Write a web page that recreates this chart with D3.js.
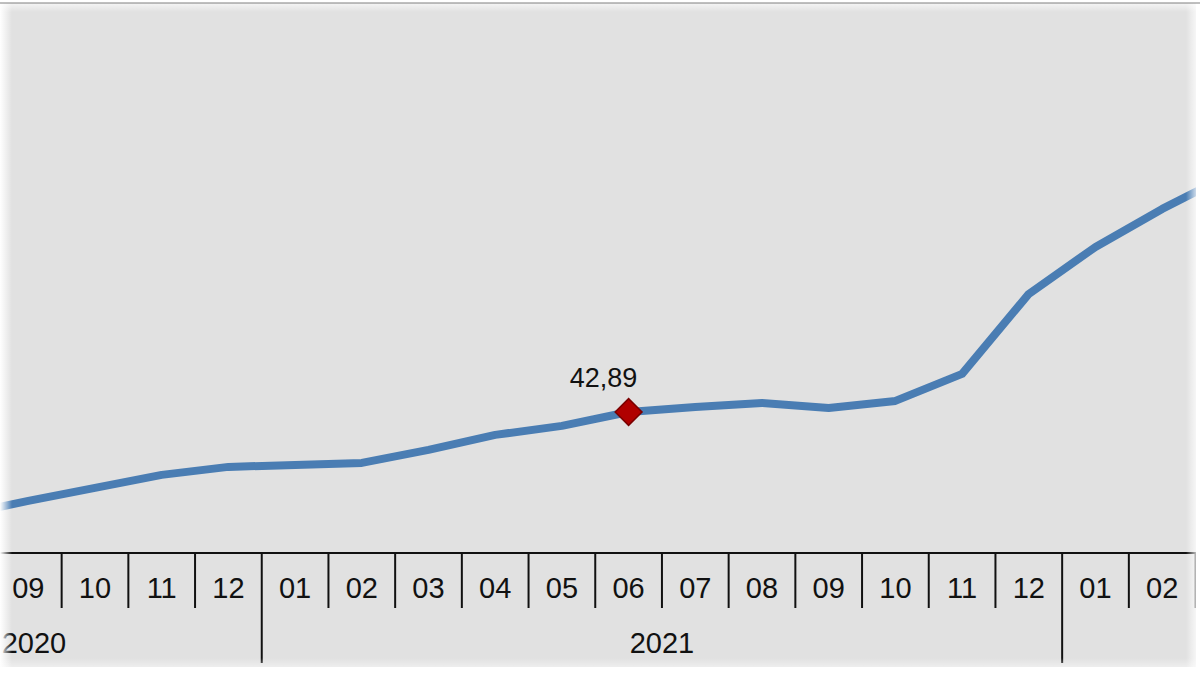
<!DOCTYPE html>
<html>
<head>
<meta charset="utf-8">
<script src="https://cdn.jsdelivr.net/npm/d3@7/dist/d3.min.js"></script>
<style>
  html, body { margin: 0; padding: 0; background: #ffffff; overflow: hidden; }
  svg { display: block; }
  text { font-family: "Liberation Sans", Arial, sans-serif; }
</style>
</head>
<body>
<svg id="chart" width="1200" height="679"></svg>
<script>
// ---- data (month keys, values) ----
const months = ["2020-08","2020-09","2020-10","2020-11","2020-12",
                "2021-01","2021-02","2021-03","2021-04","2021-05","2021-06",
                "2021-07","2021-08","2021-09","2021-10","2021-11","2021-12",
                "2022-01","2022-02","2022-03"];
const values = [32.6, 34.0, 35.3, 36.6, 37.4,
                37.6, 37.8, 39.1, 40.6, 41.5, 42.89,
                43.4, 43.8, 43.3, 44.0, 46.7, 54.7,
                59.4, 63.2, 66.6];
const highlightMonth = "2021-06";
const highlightLabel = "42,89";
// axis window (scrolled view) from June 2020 through August 2022
const axisStart = "2020-06";
const axisEnd = "2022-08";
const yearLabels = ["2020", "2021", "2022"];

// ---- helpers ----
const mIndex = k => { const [y, m] = k.split("-").map(Number); return (y - 2020) * 12 + (m - 1); };
const data = months.map((k, i) => ({ key: k, m: mIndex(k), v: values[i] }));

const svg = d3.select("#chart");
const W = 1200, H = 679;
const plotRight = 1196, axisY = 553, monthRowBottom = 608, yearRowBottom = 663;

// background panel
svg.append("rect").attr("x", 0).attr("y", 0).attr("width", W).attr("height", H).attr("fill", "#ffffff");
svg.append("rect").attr("x", 0).attr("y", 3).attr("width", plotRight).attr("height", 664).attr("fill", "#e1e1e1");

// scales
const a0 = mIndex(axisStart), a1 = mIndex(axisEnd) + 1;
const cell = 66.7;
const x = d3.scaleLinear().domain([a0, a1]).range([-5.05 - (8 - a0) * cell, -5.05 + (a1 - 8) * cell]);
const y = d3.scaleLinear().domain([30, 80]).range([540.9, 40.9]);

const defs = svg.append("defs");
defs.append("clipPath").attr("id", "clip").append("rect")
  .attr("x", 0).attr("y", 0).attr("width", plotRight).attr("height", H);

const g = svg.append("g").attr("clip-path", "url(#clip)");

// axis line
g.append("line").attr("x1", 0).attr("x2", plotRight).attr("y1", axisY).attr("y2", axisY)
  .attr("stroke", "#111").attr("stroke-width", 2);

// month cells
const axisMonths = d3.range(a0, a1);
const visible = px => px >= 0 && px <= plotRight;
g.selectAll(".msep").data(axisMonths.concat([a1]).filter(d => visible(x(d)))).join("line")
  .attr("class", "msep")
  .attr("x1", d => x(d)).attr("x2", d => x(d))
  .attr("y1", axisY).attr("y2", d => (d % 12 === 0) ? yearRowBottom : monthRowBottom)
  .attr("stroke", "#111").attr("stroke-width", 2);

g.selectAll(".mlab").data(axisMonths.filter(d => visible(x(d + 0.5)))).join("text")
  .attr("class", "mlab")
  .attr("x", d => x(d + 0.5)).attr("y", 598)
  .attr("text-anchor", "middle").attr("font-size", 29).attr("fill", "#111")
  .text(d => String((d % 12) + 1).padStart(2, "0"));

// year labels, centred over the months of that year inside the axis window
const yearX = yr => {
  const s = Math.max(a0, (+yr - 2020) * 12), e = Math.min(a1, (+yr - 2020) * 12 + 12);
  return (x(s) + x(e)) / 2;
};
g.selectAll(".ylab").data(yearLabels.filter(yr => visible(yearX(yr)))).join("text")
  .attr("class", "ylab")
  .attr("x", yr => Math.max(yearX(yr), 34))
  .attr("y", 653).attr("text-anchor", "middle").attr("font-size", 29).attr("fill", "#111")
  .text(d => d);

// line
const line = d3.line().x(d => x(d.m + 0.5)).y(d => y(d.v)).curve(d3.curveLinear);
g.append("path").datum(data).attr("d", line)
  .attr("fill", "none").attr("stroke", "#4a7db3").attr("stroke-width", 8)
  .attr("stroke-linejoin", "round").attr("stroke-linecap", "round");

// highlight point
const hp = data.find(d => d.key === highlightMonth);
g.append("path")
  .attr("d", d3.symbol(d3.symbolSquare, 360)())
  .attr("transform", `translate(${x(hp.m + 0.5)},${y(hp.v)}) rotate(45)`)
  .attr("fill", "#b00000").attr("stroke", "#7a0000").attr("stroke-width", 1.5);
g.append("text")
  .attr("x", x(hp.m + 0.5) - 25).attr("y", y(hp.v) - 25)
  .attr("text-anchor", "middle").attr("font-size", 27).attr("fill", "#111")
  .text(highlightLabel);

// soft white edges
function edge(id, x1, y1, x2, y2) {
  const lg = defs.append("linearGradient").attr("id", id)
    .attr("x1", x1).attr("y1", y1).attr("x2", x2).attr("y2", y2);
  lg.append("stop").attr("offset", "0%").attr("stop-color", "#ffffff").attr("stop-opacity", 1);
  lg.append("stop").attr("offset", "100%").attr("stop-color", "#ffffff").attr("stop-opacity", 0);
}
edge("gl", 0, 0, 1, 0); edge("gr", 1, 0, 0, 0); edge("gb", 0, 1, 0, 0); edge("gt", 0, 0, 0, 1);
svg.append("rect").attr("x", 0).attr("y", 3).attr("width", 12).attr("height", H).attr("fill", "url(#gl)");
svg.append("rect").attr("x", 1186).attr("y", 3).attr("width", 14).attr("height", H).attr("fill", "url(#gr)");
svg.append("rect").attr("x", 0).attr("y", 658).attr("width", W).attr("height", 21).attr("fill", "url(#gb)");
svg.append("rect").attr("x", 0).attr("y", 4).attr("width", W).attr("height", 8).attr("fill", "url(#gt)").attr("opacity", 0.6);
svg.append("rect").attr("x", 0).attr("y", 670).attr("width", W).attr("height", 9).attr("fill", "#ffffff");
svg.append("line").attr("x1", 0).attr("x2", W).attr("y1", 3).attr("y2", 3)
  .attr("stroke", "#aaaaaa").attr("stroke-width", 1.5);
</script>
</body>
</html>
